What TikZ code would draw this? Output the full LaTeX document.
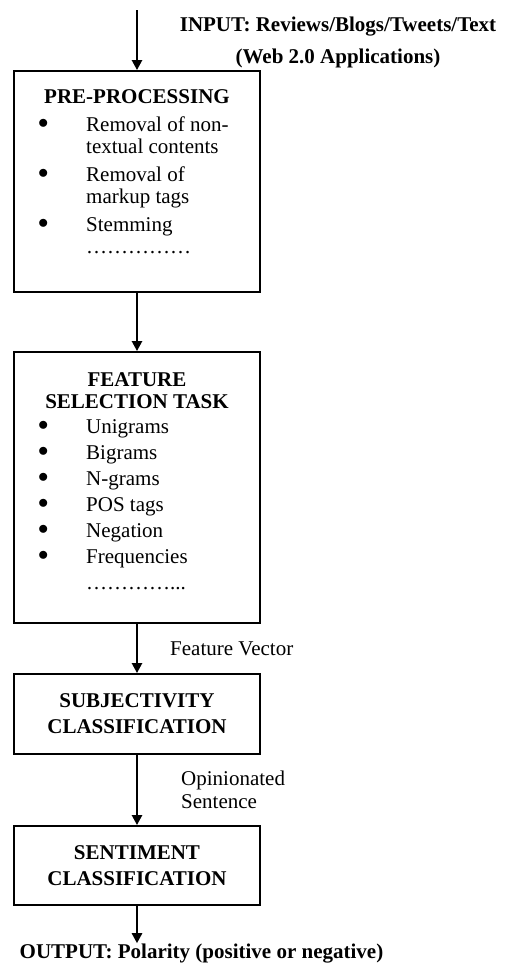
\documentclass[tikz,border=0pt]{standalone}
\usepackage{fontspec}
\setmainfont{Liberation Serif}
\usetikzlibrary{arrows.meta,positioning}

\tikzset{
  stage/.style={draw, line width=1.8pt, minimum width=246pt, inner sep=0pt},
  heading/.style={inner sep=0pt, align=center, font=\fontsize{21}{22}\selectfont\bfseries},
  plain/.style={inner sep=0pt, align=left, font=\fontsize{21}{22}\selectfont},
  flow/.style={line width=2.4pt, -{Triangle[width=10pt,length=10pt]}},
}
\newcommand{\bul}{\raisebox{3pt}{$\bullet$}}

\begin{document}
\begin{tikzpicture}[x=1pt,y=-1pt]
        \useasboundingbox (0,0) rectangle (512,964);

        % Draw the boxes
        \node[stage, minimum height=221pt] (pre) at (137,181.5) {};
        \node[stage, minimum height=271pt] (feat) at (137,487.5) {};
        \node[stage, heading, minimum height=80pt] (subj) at (137,714)
            {SUBJECTIVITY\\[4pt]CLASSIFICATION};
        \node[stage, heading, minimum height=79pt] (sent) at (137,865.5)
            {SENTIMENT\\[4pt]CLASSIFICATION};

        % Text inside the first two boxes
        \node[heading, anchor=base] (pretitle) at (137,103) {PRE-PROCESSING};
        \node[plain, anchor=north west] (prelist) at (38,115.6) {%
            \begin{tabular}{@{}p{48pt}@{}l@{}}
            \bul & Removal of non-\\
                 & textual contents\\[6pt]
            \bul & Removal of\\
                 & markup tags\\[6pt]
            \bul & Stemming\\
                 & ……………
            \end{tabular}};

        \node[heading, anchor=base] (feattitle) at (137,408) {FEATURE\\SELECTION TASK};
        \node[plain, anchor=north west] (featlist) at (38,417.6) {%
            \begin{tabular}{@{}p{48pt}@{}l@{}}
            \bul & Unigrams\\[4pt]
            \bul & Bigrams\\[4pt]
            \bul & N-grams\\[4pt]
            \bul & POS tags\\[4pt]
            \bul & Negation\\[4pt]
            \bul & Frequencies\\[4pt]
                 & …………...
            \end{tabular}};

        % Input, output and arrow labels
        \node[heading, anchor=base] (input) at (338,63)
            {INPUT: Reviews/Blogs/Tweets/Text\\[10pt](Web 2.0 Applications)};
        \node[heading, anchor=base] (output) at (201.5,958)
            {OUTPUT: Polarity (positive or negative)};
        \node[plain, anchor=base west] (fvec) at (170,655) {Feature Vector};
        \node[plain, anchor=base west] (opin) at (181,808) {Opinionated\\[1pt]Sentence};

        % Draw arrows
        \coordinate (start) at (137,10);
        \draw[flow] (start) -- (pre);
        \draw[flow] (pre) -- (feat);
        \draw[flow] (feat) -- (subj);
        \draw[flow] (subj) -- (sent);
        \draw[flow] (sent) -- (sent.south |- output.north);
    \end{tikzpicture}
\end{document}
